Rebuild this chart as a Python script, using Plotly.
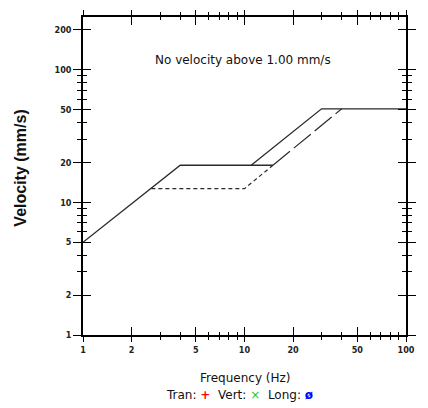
import plotly.graph_objects as go
import numpy as np

# ---- data ----
solid_a_freq = [1, 4, 15]
solid_a_vel = [5.0, 19.05, 19.05]
solid_b_freq = [11, 30, 100]
solid_b_vel = [19.05, 50.8, 50.8]
short_dash_freq = [2.65, 10, 15]
short_dash_vel = [12.7, 12.7, 19.05]
long_dash_freq = [15, 40]
long_dash_vel = [19.05, 50.8]

x_major = [1, 2, 5, 10, 20, 50, 100]
x_major_labels = ["1", "2", "5", "10", "20", "50", "100"]
x_minor = [3, 4, 6, 7, 8, 9, 30, 40, 60, 70, 80, 90]
y_major = [1, 2, 5, 10, 20, 50, 100, 200]
y_major_labels = ["1", "2", "5", "10", "20", "50", "100", "200"]
y_minor = [3, 4, 6, 7, 8, 9, 30, 40, 60, 70, 80, 90]

LINE = "#2a2a2a"
TICKFONT = dict(family="Liberation Sans Narrow, DejaVu Sans Condensed, Arial Narrow, sans-serif",
                size=9, color="#222", weight="bold")
TEXTFONT = "DejaVu Sans, Verdana, sans-serif"

fig = go.Figure()
fig.add_trace(go.Scatter(x=solid_a_freq, y=solid_a_vel, mode="lines",
                         line=dict(color=LINE, width=1.3), showlegend=False))
fig.add_trace(go.Scatter(x=solid_b_freq, y=solid_b_vel, mode="lines",
                         line=dict(color=LINE, width=1.3), showlegend=False))
fig.add_trace(go.Scatter(x=short_dash_freq, y=short_dash_vel, mode="lines",
                         line=dict(color=LINE, width=1.2, dash="4px,3px"), showlegend=False))
fig.add_trace(go.Scatter(x=long_dash_freq, y=long_dash_vel, mode="lines",
                         line=dict(color=LINE, width=1.2, dash="22px,5px"), showlegend=False))
# invisible trace for overlay axes (inside ticks)
fig.add_trace(go.Scatter(x=[1], y=[1], xaxis="x2", yaxis="y2", mode="markers",
                         marker=dict(opacity=0), showlegend=False, hoverinfo="skip"))

yr = [0, np.log10(250)]
common_x = dict(type="log", range=[0, 2], showgrid=False, zeroline=False,
                showline=True, linecolor="black", linewidth=1.5, mirror="ticks",
                tickvals=x_major, ticktext=x_major_labels, tickcolor="black", tickwidth=1.3)
common_y = dict(type="log", range=yr, showgrid=False, zeroline=False,
                showline=True, linecolor="black", linewidth=1.5, mirror="ticks",
                tickvals=y_major, ticktext=y_major_labels, tickcolor="black", tickwidth=1.3)

# page body has an 8px margin, so the figure is 420x400 placed at (8, 8)
fig.update_layout(
    width=420, height=400,
    margin=dict(l=75, r=22, t=2, b=73),
    paper_bgcolor="white", plot_bgcolor="white",
    xaxis=dict(**common_x, ticks="outside", ticklen=5, tickfont=TICKFONT,
               minor=dict(tickvals=x_minor, ticks="outside", ticklen=3, tickcolor="black", tickwidth=1.2)),
    yaxis=dict(**common_y, ticks="outside", ticklen=8, tickfont=TICKFONT,
               minor=dict(tickvals=y_minor, ticks="outside", ticklen=4, tickcolor="black", tickwidth=1.2)),
    xaxis2=dict(**common_x, overlaying="x", ticks="inside", ticklen=8, showticklabels=False,
                minor=dict(tickvals=x_minor, ticks="inside", ticklen=3, tickcolor="black", tickwidth=1.2)),
    yaxis2=dict(**common_y, overlaying="y", ticks="inside", ticklen=8, showticklabels=False,
                minor=dict(tickvals=y_minor, ticks="inside", ticklen=4, tickcolor="black", tickwidth=1.2)),
)

W, H = 323.0, 325.0
def px(xp):
    return (xp - 83) / W
def py(yp):
    return (335 - yp) / H

def note(text, x, y, **kw):
    fig.add_annotation(text=text, xref="paper", yref="paper", x=px(x), y=py(y),
                       showarrow=False, xanchor=kw.pop("xanchor", "center"),
                       yanchor="middle", **kw)

note("No velocity above 1.00 mm/s", 243, 54,
     font=dict(family=TEXTFONT, size=12, color="#111"))
note("Velocity (mm/s)", 21, 165, textangle=-90,
     font=dict(family="Liberation Sans, Arial, sans-serif", size=16, color="#111", weight="bold"))
note("Frequency (Hz)", 245, 379,
     font=dict(family=TEXTFONT, size=12, color="#111"))
note("Tran: <span style='color:#ff0000'><b>+</b></span>  Vert: <span style='color:#22cc22'>×</span>  Long: <span style='color:#0000ff'><b>ø</b></span>",
     239, 396, font=dict(family=TEXTFONT, size=12, color="#111"))
note("x", 419, 352, xanchor="left",
     font=dict(family="Liberation Sans Narrow, DejaVu Sans Condensed, sans-serif", size=9, color="#222"))

fig.write_html("out.html")
